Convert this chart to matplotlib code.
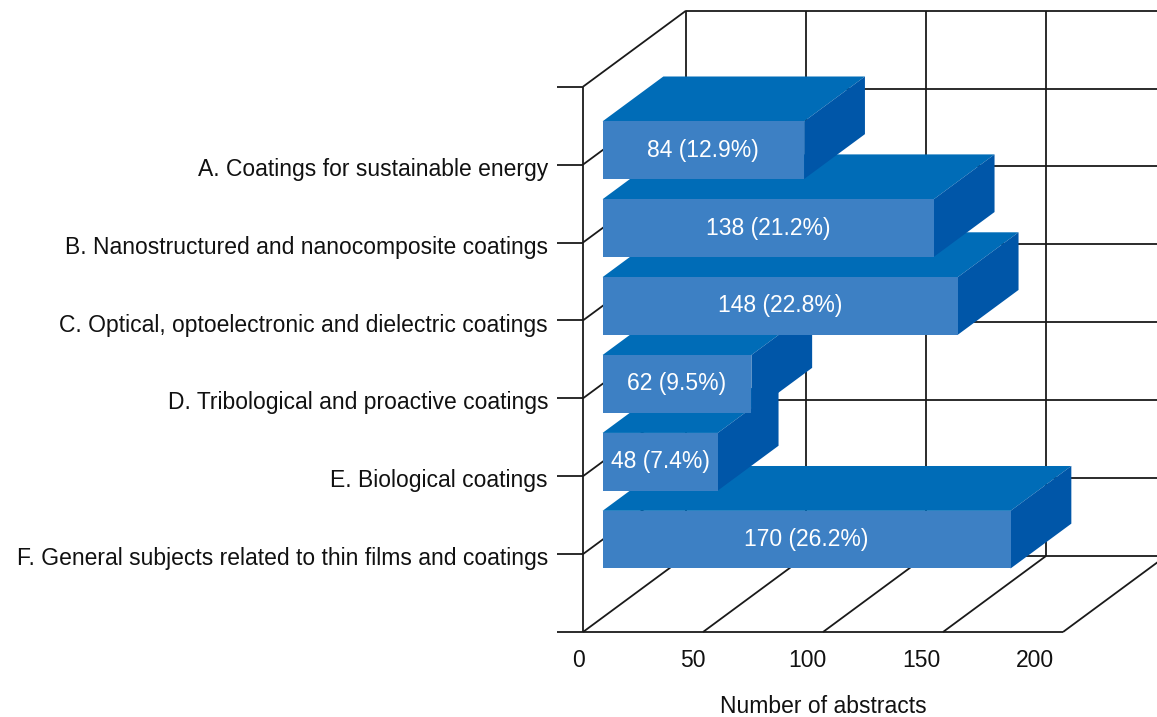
import matplotlib
matplotlib.use("Agg")
import matplotlib.pyplot as plt
from matplotlib.patches import Polygon

plt.rcParams['font.family'] = ['Liberation Sans', 'DejaVu Sans']

# abstract counts per topic (top to bottom)
topics = [
    "A. Coatings for sustainable energy",
    "B. Nanostructured and nanocomposite coatings",
    "C. Optical, optoelectronic and dielectric coatings",
    "D. Tribological and proactive coatings",
    "E. Biological coatings",
    "F. General subjects related to thin films and coatings",
]
counts = [84, 138, 148, 62, 48, 170]
shares = [12.9, 21.2, 22.8, 9.5, 7.4, 26.2]
x_ticks = [0, 50, 100, 150, 200]

# oblique projection: one unit of depth shifts right and up (in data units)
DX = 103 / 2.4
DY = 76 / 77.9
D_FRONT, D_BACK = 0.19, 0.78
BAR_H = 0.74
N = len(topics)
XMAX = 200
FS = 16.5

FRONT = '#3d80c4'
TOP = '#006cb7'
SIDE = '#0056a8'
LINE = '#1a1a1a'


def proj(v, c, d):
    return (v + d * DX, c + d * DY)


fig = plt.figure(figsize=(11.57, 7.17), dpi=100)
ax = fig.add_axes([0, 0, 1, 1])
ax.set_xlim(-583 / 2.4, (1157 - 583) / 2.4)
ax.set_ylim((632 - 717) / 77.9, 632 / 77.9)
ax.axis('off')


def seg(p, q, **kw):
    ax.plot([p[0], q[0]], [p[1], q[1]], color=LINE, lw=1.3, zorder=1,
            solid_capstyle='butt', **kw)


# walls and floor
seg(proj(0, 0, 0), proj(0, N + 1, 0))
seg(proj(0, 0, 1), proj(0, N + 1, 1))
for k in range(N + 2):
    seg(proj(0, k, 0), proj(0, k, 1))
    seg(proj(0, k, 1), proj(XMAX, k, 1))
    seg((-26 / 2.4, k), (0, k))
for v in x_ticks:
    if v > 0:
        seg(proj(v, 0, 0), proj(v, 0, 1))
        seg(proj(v, 0, 1), proj(v, N + 1, 1))
seg(proj(0, 0, 0), proj(XMAX, 0, 0))

# bars, drawn bottom to top so upper boxes overlap the ones below
for i in reversed(range(N)):
    c = N - i
    val = counts[i]
    lo, hi = c - BAR_H / 2, c + BAR_H / 2
    front = [proj(0, lo, D_FRONT), proj(val, lo, D_FRONT),
             proj(val, hi, D_FRONT), proj(0, hi, D_FRONT)]
    top = [proj(0, hi, D_FRONT), proj(val, hi, D_FRONT),
           proj(val, hi, D_BACK), proj(0, hi, D_BACK)]
    side = [proj(val, lo, D_FRONT), proj(val, hi, D_FRONT),
            proj(val, hi, D_BACK), proj(val, lo, D_BACK)]
    z = 2 + (N - i) * 0.1
    ax.add_patch(Polygon(top, closed=True, fc=TOP, ec='none', zorder=z))
    ax.add_patch(Polygon(side, closed=True, fc=SIDE, ec='none', zorder=z))
    ax.add_patch(Polygon(front, closed=True, fc=FRONT, ec='none', zorder=z))
    cx, cy = proj(val / 2, c, D_FRONT)
    ax.text(cx, cy, f"{val} ({shares[i]}%)", color='white', fontsize=FS,
            ha='center', va='center', zorder=z + 0.05)
    ax.text(-35 / 2.4, c - 0.06, topics[i], fontsize=FS,
            ha='right', va='center', color='#111111')

# axis numbers
for v in x_ticks:
    ax.text(v * 0.95 - 1.7, -0.36, str(v), fontsize=FS,
            ha='center', va='center', color='#111111')
ax.text((823 - 583) / 2.4, -0.95, "Number of abstracts", fontsize=FS,
        ha='center', va='center', color='#111111')

fig.savefig('out.png', dpi=100)
